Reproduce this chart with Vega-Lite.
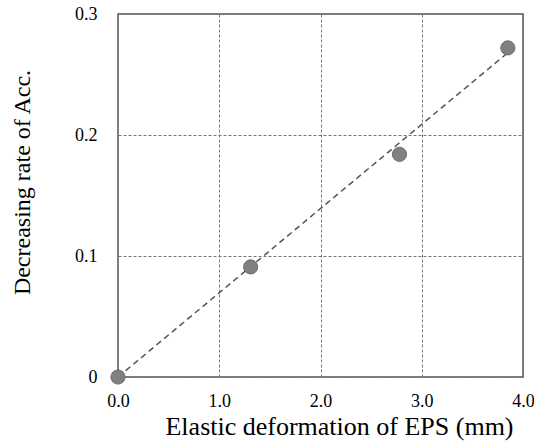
{
  "$schema": "https://vega.github.io/schema/vega-lite/v6.json",
  "autosize": "none",
  "width": 405,
  "height": 363,
  "padding": {"left": 118, "top": 14, "right": 11, "bottom": 65},
  "background": "white",
  "config": {
    "view": {"stroke": "#555555", "strokeWidth": 1.5},
    "font": "Liberation Serif",
    "axis": {
      "domain": false, "ticks": false, "grid": true, "gridDash": [3, 2], "gridColor": "#777777", "gridWidth": 1,
      "labelFont": "Liberation Serif", "labelFontSize": 18, "labelColor": "#000000", "labelFlush": false, "labelOverlap": false,
      "titleFont": "Liberation Serif", "titleFontWeight": "normal", "titleColor": "#000000"
    },
    "axisX": {"labelPadding": 15, "titleFontSize": 26, "titleX": 221, "titleY": 57, "titleAlign": "center", "titleBaseline": "alphabetic"},
    "axisY": {"labelPadding": 21, "titleFontSize": 24, "titleX": -96, "titleY": 168, "titleAngle": -90, "titleAlign": "center", "titleBaseline": "middle"}
  },
  "datasets": {
    "pts": [
      {"x": 0.0, "y": 0.0},
      {"x": 1.31, "y": 0.091},
      {"x": 2.78, "y": 0.184},
      {"x": 3.85, "y": 0.272}
    ],
    "fit": [
      {"x": 0.0, "y": 0.0},
      {"x": 3.85, "y": 0.268}
    ]
  },
  "layer": [
    {
      "data": {"name": "fit"},
      "mark": {"type": "line", "color": "#555555", "strokeWidth": 1.5, "strokeDash": [6, 4]},
      "encoding": {
        "x": {"field": "x", "type": "quantitative", "scale": {"domain": [0, 4], "nice": false},
          "axis": {"values": [0, 1, 2, 3, 4], "format": ".1f", "title": "Elastic deformation of EPS (mm)"}},
        "y": {"field": "y", "type": "quantitative", "scale": {"domain": [0, 0.3], "nice": false},
          "axis": {"values": [0, 0.1, 0.2, 0.3], "labelExpr": "datum.value == 0 ? '0' : format(datum.value, '.1f')",
            "title": "Decreasing rate of Acc."}}
      }
    },
    {
      "data": {"name": "pts"},
      "mark": {"type": "point", "filled": true, "size": 200, "color": "#808080", "stroke": "#6a6a6a", "strokeWidth": 1, "opacity": 1},
      "encoding": {
        "x": {"field": "x", "type": "quantitative"},
        "y": {"field": "y", "type": "quantitative"}
      }
    }
  ]
}
